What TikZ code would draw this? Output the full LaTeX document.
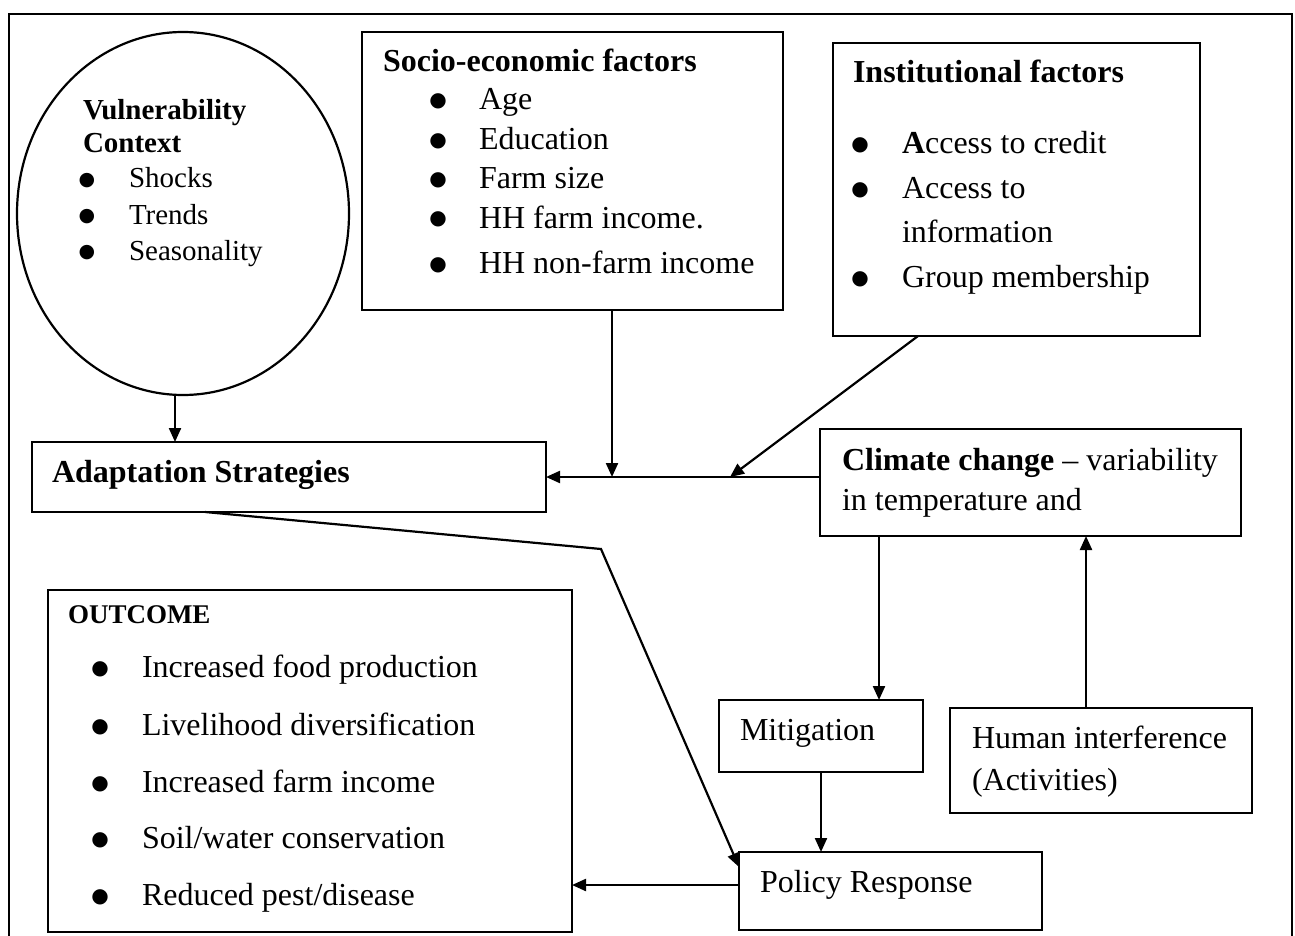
\documentclass[tikz,border=0pt]{standalone}
\usepackage{fontspec}
\setmainfont{Liberation Serif}
\newfontfamily\bulfont{DejaVu Sans}
\usetikzlibrary{arrows.meta,shapes.geometric}
\newcommand{\mybul}{\raisebox{3pt}{\fontsize{20}{20}\bulfont ●}}
\newcommand{\mysbul}{\raisebox{2.5pt}{\fontsize{19}{19}\bulfont ●}}
\begin{document}
\begin{tikzpicture}[x=1pt,y=-1pt,
  txt/.style={inner sep=0pt, outer sep=0pt, anchor=base west, font=\fontsize{32}{38}\selectfont},
  small/.style={txt, font=\fontsize{29}{34}\selectfont},
  bul/.style={inner sep=0pt, outer sep=0pt, anchor=base},
  box/.style={draw, line width=2.2pt, inner sep=0pt, outer sep=0pt, anchor=north west},
  arr/.style={line width=2.2pt, -{Triangle[length=14pt,width=12pt]}},
  conn/.style={line width=2.2pt}]
\useasboundingbox (0,0) rectangle (1295,936);
% outer frame
\draw[conn] (9,945) -- (9,14) -- (1292,14) -- (1292,945);

% shapes
\node[draw, line width=2.2pt, ellipse, inner sep=0pt, minimum width=332pt, minimum height=363pt] (vc) at (183,213.5) {};
\node[box, minimum width=421pt, minimum height=278pt] (se) at (362,32) {};
\node[box, minimum width=367pt, minimum height=293pt] (inst) at (833,43) {};
\node[box, minimum width=514pt, minimum height=70pt] (ad) at (32,442) {};
\node[box, minimum width=421pt, minimum height=107pt] (cc) at (820,429) {};
\node[box, minimum width=204pt, minimum height=72pt] (mit) at (719,700) {};
\node[box, minimum width=302pt, minimum height=105pt] (hi) at (950,708) {};
\node[box, minimum width=303pt, minimum height=78pt] (pr) at (739,852) {};
\node[box, minimum width=524pt, minimum height=342pt] (oc) at (48,590) {};

% vulnerability context text
\node[small] (vt1) at (83,120) {\bfseries Vulnerability};
\node[small] (vt2) at (83,153) {\bfseries Context};
\node[bul] (vb1) at (87,188) {\mysbul};
\node[small] (vi1) at (129,188) {Shocks};
\node[bul] (vb2) at (87,224) {\mysbul};
\node[small] (vi2) at (129,224) {Trends};
\node[bul] (vb3) at (87,260) {\mysbul};
\node[small] (vi3) at (129,260) {Seasonality};

% socio-economic text
\node[txt] (st) at (383,72) {\bfseries Socio-economic factors};
\node[bul] (sb1) at (438,110) {\mybul};
\node[txt] (si1) at (479,110) {Age};
\node[bul] (sb2) at (438,150) {\mybul};
\node[txt] (si2) at (479,150) {Education};
\node[bul] (sb3) at (438,189) {\mybul};
\node[txt] (si3) at (479,189) {Farm size};
\node[bul] (sb4) at (438,228) {\mybul};
\node[txt] (si4) at (479,228) {HH farm income.};
\node[bul] (sb5) at (438,273) {\mybul};
\node[txt] (si5) at (479,273) {HH non-farm income};

% institutional text
\node[txt] (it) at (853,83) {\bfseries Institutional factors};
\node[bul] (ib1) at (860,154) {\mybul};
\node[txt] (ii1) at (902,154) {\textbf{A}ccess to credit};
\node[bul] (ib2) at (860,199) {\mybul};
\node[txt] (ii2) at (902,199) {Access to};
\node[txt] (ii3) at (902,242) {information};
\node[bul] (ib3) at (860,287) {\mybul};
\node[txt] (ii4) at (902,287) {Group membership};

% other box texts
\node[txt] (adt) at (52,482) {\bfseries Adaptation Strategies};
\node[txt] (cct1) at (842,470) {\textbf{Climate change} -- variability};
\node[txt] (cct2) at (842,510) {in temperature and};
\node[txt] (mitt) at (740,740) {Mitigation};
\node[txt] (hit1) at (972,748) {Human interference};
\node[txt] (hit2) at (972,790) {(Activities)};
\node[txt] (prt) at (760,892) {Policy Response};

% outcome text
\node[txt, font=\fontsize{27}{32}\selectfont\bfseries] (oct) at (68,623) {OUTCOME};
\node[bul] (ob1) at (100,677) {\mybul};
\node[txt] (oi1) at (142,677) {Increased food production};
\node[bul] (ob2) at (100,735) {\mybul};
\node[txt] (oi2) at (142,735) {Livelihood diversification};
\node[bul] (ob3) at (100,792) {\mybul};
\node[txt] (oi3) at (142,792) {Increased farm income};
\node[bul] (ob4) at (100,848) {\mybul};
\node[txt] (oi4) at (142,848) {Soil/water conservation};
\node[bul] (ob5) at (100,905) {\mybul};
\node[txt] (oi5) at (142,905) {Reduced pest/disease};

% helper coordinates
\coordinate (j1) at (612,477);
\coordinate (j2) at (730,477);
\coordinate (k1) at (879,600);
\coordinate (k2) at (1086,600);
\coordinate (k3) at (600,885);
\coordinate (bend) at (601,549);

% connectors
\draw[arr] ([xshift=-8pt]vc.south) -- ([xshift=-8pt]vc.south |- ad.north);
\draw[arr] (ad.east -| cc.west) -- (ad.east);
\draw[arr] (se.south -| j1) -- (j1);
\draw[arr] ([xshift=-98.5pt]inst.south) -- (j2);
\draw[arr] (cc.south -| k1) -- (mit.north -| k1);
\draw[arr] (hi.north -| k2) -- (cc.south -| k2);
\draw[arr] (mit.south) -- (mit.south |- pr.north);
\draw[arr] (pr.west |- k3) -- (oc.east |- k3);
\draw[arr] ([xshift=-84pt]ad.south) -- (bend) -- ([yshift=-15pt]pr.north west);
\end{tikzpicture}
\end{document}
